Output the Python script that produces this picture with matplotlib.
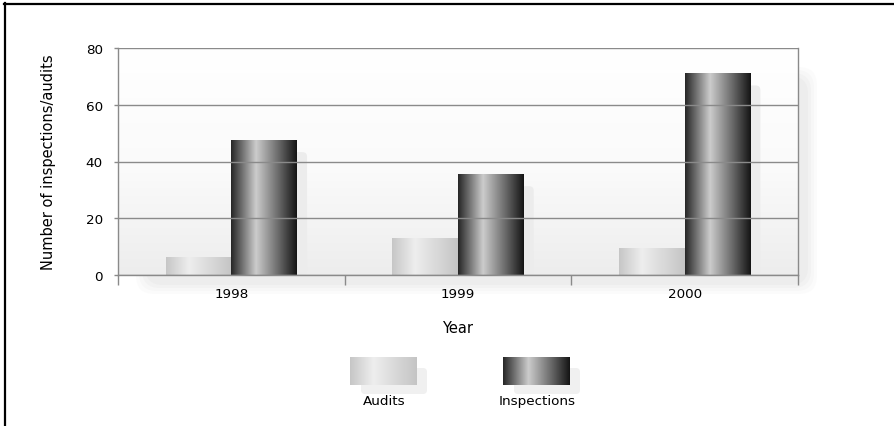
import numpy as np
import matplotlib
matplotlib.use("Agg")
import matplotlib.pyplot as plt
from matplotlib.colors import LinearSegmentedColormap
from matplotlib.patches import FancyBboxPatch

years = ["1998", "1999", "2000"]
audits = [6, 13, 9.5]
inspections = [47.5, 35.5, 71]
series_names = ["Audits", "Inspections"]

W, H = 894, 427
plt.rcParams["font.family"] = ["DejaVu Sans"]
fig = plt.figure(figsize=(W / 100, H / 100), dpi=100)

# background axes in pixel coords (y downwards)
bg = fig.add_axes([0, 0, 1, 1], zorder=0)
bg.set_xlim(0, W)
bg.set_ylim(H, 0)
bg.axis("off")

# plot-area position in pixels
L, R, T, B = 118, 798, 49, 276
ax = fig.add_axes([L / W, 1 - B / H, (R - L) / W, (B - T) / H], zorder=1)
ax.set_facecolor("none")

# soft rounded shadow behind plot area
for i, a in enumerate([0.03, 0.04, 0.05, 0.05]):
    g = i * 3
    bg.add_patch(FancyBboxPatch((136 + g, 68 + g), 681 - 2 * g, 227 - 2 * g,
                                boxstyle="round,pad=0,rounding_size=18",
                                fc="#9a9a9a", ec="none", alpha=a, zorder=1))

# frame lines (top and left only)
bg.plot([4, W], [4.5, 4.5], color="black", lw=1.6, zorder=5)
bg.plot([4.5, 4.5], [4, H], color="black", lw=1.6, zorder=5)

ymax = 80

# vertical gradient in plot area
grad = np.linspace(0, 1, 256).reshape(-1, 1)
bgcmap = LinearSegmentedColormap.from_list("bgc", [(0, "#ededed"), (0.45, "#fafafa"), (1, "#ffffff")])
ax.imshow(grad, extent=(0, 3, 0, ymax), origin="lower", aspect="auto", cmap=bgcmap, zorder=0)

cmap_a = LinearSegmentedColormap.from_list("aud", [(0, "#c6c6c6"), (0.35, "#eeeeee"), (1, "#c4c4c4")])
cmap_i = LinearSegmentedColormap.from_list("insp", [(0, "#262626"), (0.38, "#cccccc"),
                                                   (0.72, "#6a6a6a"), (1, "#141414")])
hgrad = np.linspace(0, 1, 256).reshape(1, -1)

bw = 0.29
xs = np.arange(len(years)) + 0.5
for x, a, v in zip(xs, audits, inspections):
    # shadow to the right of the pair
    ax.add_patch(FancyBboxPatch((x + bw - 0.02, 0), 0.064, v - 4.2,
                                boxstyle="round,pad=0,rounding_size=0.02",
                                mutation_aspect=ymax / 3 * (R - L) / (B - T),
                                fc="#ececec", ec="none", zorder=1.5))
    ax.imshow(hgrad, extent=(x - bw, x, 0, a), aspect="auto", cmap=cmap_a, zorder=2)
    ax.imshow(hgrad, extent=(x, x + bw, 0, v), aspect="auto", cmap=cmap_i, zorder=2.1)

ax.set_xlim(0, 3)
ax.set_ylim(0, ymax)

ax.set_yticks(range(0, 81, 20))
ax.grid(axis="y", color="#8a8a8a", lw=1)
ax.set_axisbelow(False)
for g in ax.get_ygridlines():
    g.set_zorder(1.2)
for s in ["left", "right", "top", "bottom"]:
    ax.spines[s].set_color("#8a8a8a")
    ax.spines[s].set_linewidth(1)
ax.spines["top"].set_visible(False)

ax.set_xticks([0, 1, 2, 3])
ax.set_xticklabels([])
ax.set_xticks(xs, minor=True)
ax.set_xticklabels(years, minor=True)
ax.tick_params(axis="x", which="major", length=7.5, color="#8a8a8a", width=1)
ax.tick_params(axis="x", which="minor", length=0, pad=9, labelsize=9.7)
ax.tick_params(axis="y", length=3, color="#8a8a8a", width=1, pad=8, labelsize=9.7)

ax.set_xlabel("Year", fontsize=10.5, labelpad=14)
ax.set_ylabel("Number of inspections/audits", fontsize=10.5, labelpad=21)

# legend
leg_x = [350, 503]
for lx, cm, name in zip(leg_x, [cmap_a, cmap_i], series_names):
    bg.add_patch(FancyBboxPatch((lx + 11, 369), 66, 26, boxstyle="round,pad=0,rounding_size=4",
                                fc="#f0f0f0", ec="none", zorder=2))
    bg.imshow(hgrad, extent=(lx, lx + 67, 386, 358), aspect="auto", cmap=cm, zorder=3)
    bg.text(lx + 34, 402, name, ha="center", va="center", fontsize=9.7, zorder=4)
bg.set_xlim(0, W)
bg.set_ylim(H, 0)

fig.savefig("out.png", dpi=100)
